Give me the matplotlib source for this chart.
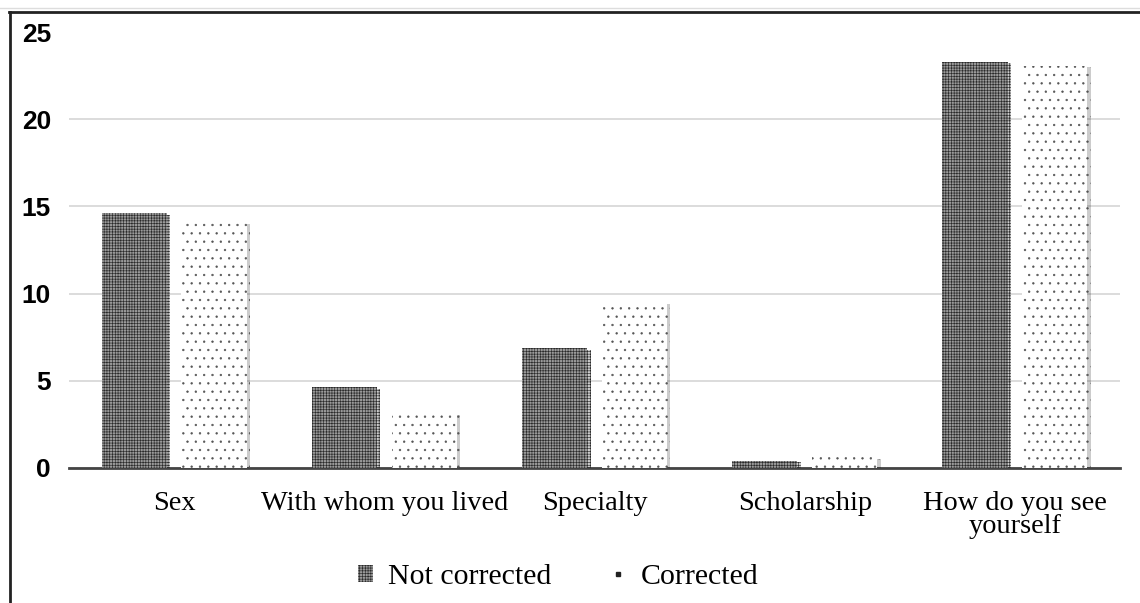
import matplotlib.pyplot as plt
import matplotlib.patheffects as pe
from matplotlib.lines import Line2D
from matplotlib.patches import Patch
import numpy as np

categories = ["Sex", "With whom you lived", "Specialty", "Scholarship",
              "How do you see\nyourself"]
not_corrected = [14.6, 4.6, 6.85, 0.37, 23.3]
corrected = [14.1, 3.1, 9.47, 0.58, 23.1]
series_names = ["Not corrected", "Corrected"]
yticks = [0, 5, 10, 15, 20, 25]

plt.rcParams["hatch.linewidth"] = 0.45

W, H = 1140, 603
fig = plt.figure(figsize=(W / 100, H / 100), dpi=100)
ax = fig.add_axes([69 / W, 1 - 467.5 / H, (1120 - 69) / W, (467.5 - 32.5) / H])

x = np.arange(len(categories))
bw = 0.31
off = 0.19
shadow = [pe.SimplePatchShadow(offset=(2.5, -1), shadow_rgbFace="#000000", alpha=0.2), pe.Normal()]

b1 = ax.bar(x - off, not_corrected, bw, color="#9a9a9a", edgecolor="#2a2a2a",
            hatch="++++++", linewidth=0, zorder=3)
b2 = ax.bar(x + off, corrected, bw, color="white", edgecolor="#555555",
            hatch="..", linewidth=0, zorder=3)
for b in list(b1) + list(b2):
    b.set_path_effects(shadow)

ax.set_xlim(-0.5, len(categories) - 0.5)
ax.set_ylim(0, 25)
ax.set_yticks(yticks)
ax.yaxis.grid(True, color="#d9d9d9", linewidth=1.3, zorder=0)
ax.set_axisbelow(True)

for s in ["top", "right", "left"]:
    ax.spines[s].set_visible(False)
ax.spines["bottom"].set_color("#444444")
ax.spines["bottom"].set_linewidth(2)

ax.tick_params(axis="y", length=0, pad=13)
ax.tick_params(axis="x", length=0, pad=17)
ax.set_yticklabels([str(v) for v in yticks], fontfamily="Liberation Sans",
                   fontweight="bold", fontsize=19)
ax.set_xticks(x)
ax.set_xticklabels(categories, fontfamily="Liberation Serif", fontsize=20.4,
                   linespacing=0.9)

handles = [
    Patch(facecolor="#9a9a9a", edgecolor="#2a2a2a", hatch="++++++", linewidth=0),
    Line2D([], [], linestyle="none", marker="s", markersize=2.5,
           color="#222222"),
]
leg = fig.legend(handles, series_names, loc="center",
                 bbox_to_anchor=(558 / W, 1 - 577 / H), ncol=2,
                 frameon=False, prop={"family": "Liberation Serif", "size": 21.5},
                 handlelength=0.5, handleheight=0.5, handletextpad=0.5,
                 columnspacing=2.0)

# outer frame
fig.add_artist(Line2D([9 / W, 1], [1 - 11.5 / H, 1 - 11.5 / H], color="#222222", linewidth=2))
fig.add_artist(Line2D([9.5 / W, 9.5 / W], [0, 1 - 11.5 / H], color="#222222", linewidth=2))
fig.add_artist(Line2D([0, 1], [1 - 8 / H, 1 - 8 / H], color="#dddddd", linewidth=1))

fig.savefig("out.png", dpi=100)
